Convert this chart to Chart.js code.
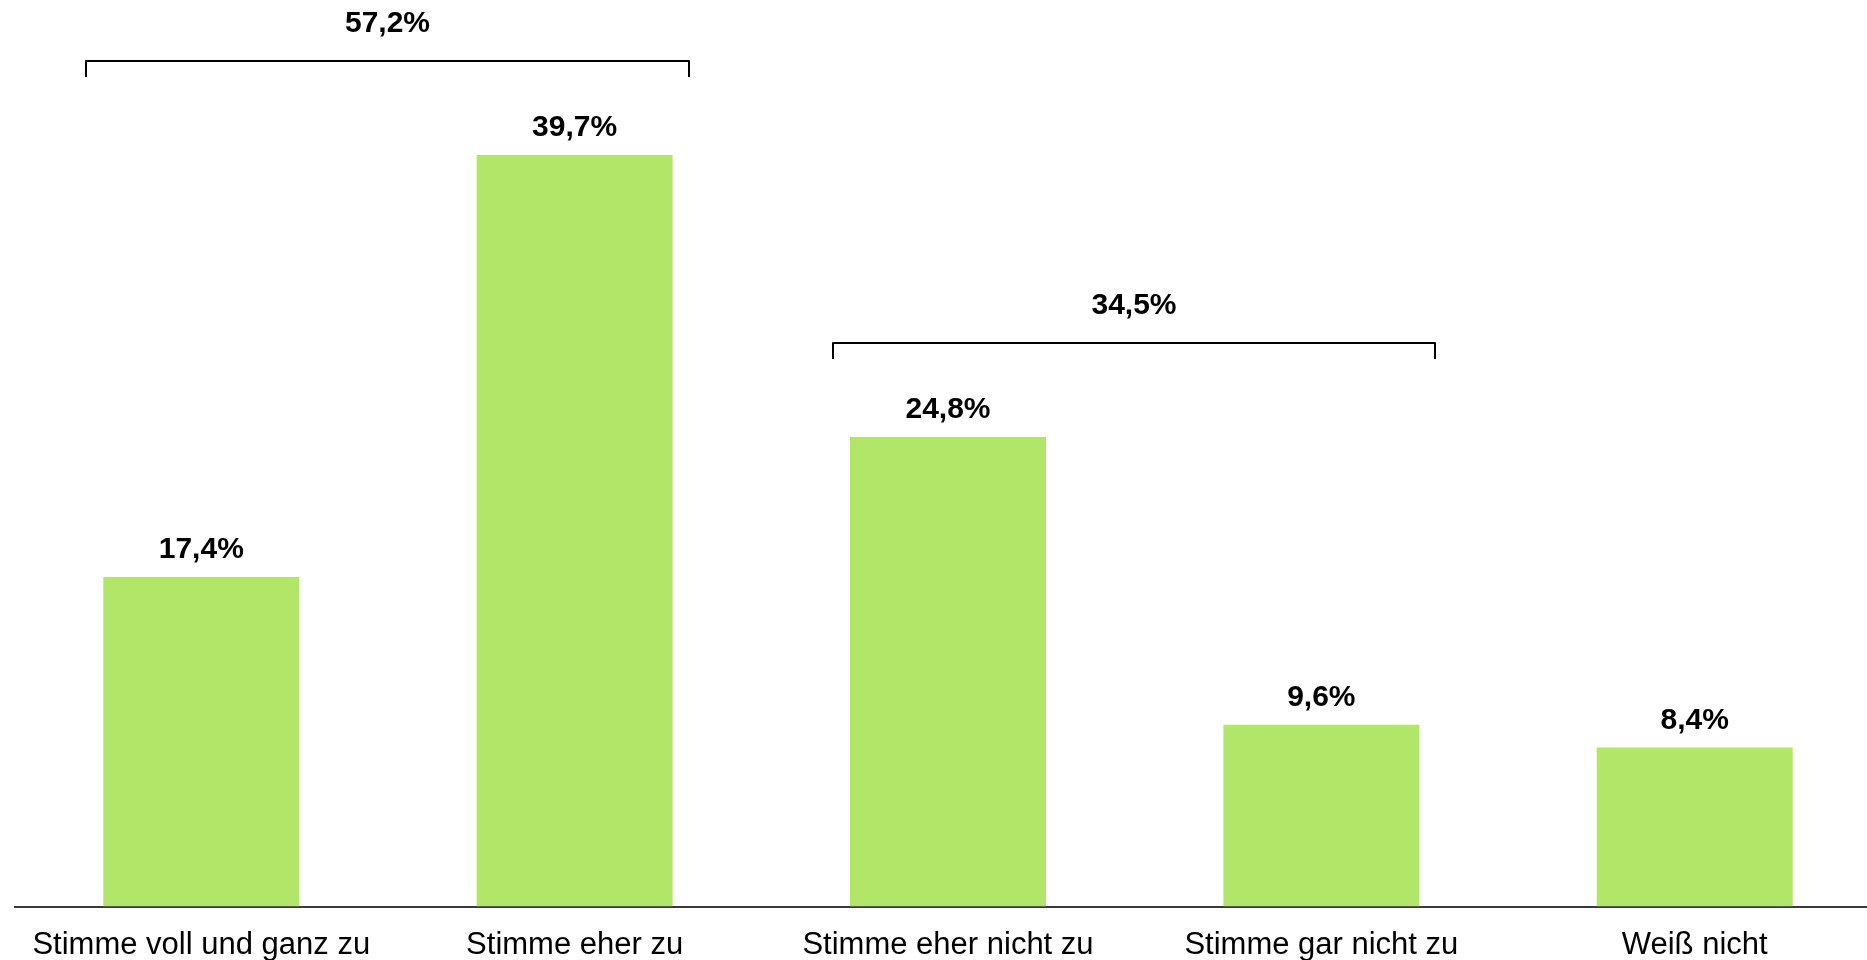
<!DOCTYPE html>
<html>
<head>
<meta charset="utf-8">
<script src="https://cdn.jsdelivr.net/npm/chart.js@4.4.1/dist/chart.umd.min.js"></script>
<style>
  html, body { margin: 0; padding: 0; background: #ffffff; overflow: hidden; }
  #wrap { position: relative; width: 1882px; height: 960px; }
</style>
</head>
<body>
<div id="wrap"><canvas id="chart"></canvas></div>
<script>
// Categories and values (percent)
const categories = ['Stimme voll und ganz zu', 'Stimme eher zu', 'Stimme eher nicht zu', 'Stimme gar nicht zu', 'Weiß nicht'];
const values = [17.4, 39.7, 24.8, 9.6, 8.4];

// Summary brackets: first/last bar index and label
const groupStart = [0, 2];
const groupEnd = [1, 3];
const groupLabels = ['57,2%', '34,5%'];

const barColor = '#b2e669';
const fontFamily = '"Liberation Sans", Arial, sans-serif';

const fmt = v => v.toFixed(1).replace('.', ',') + '%';

// Value labels above bars + group brackets
const labelsPlugin = {
  id: 'labels',
  afterDatasetsDraw(chart) {
    const ctx = chart.ctx;
    const bars = chart.getDatasetMeta(0).data;
    ctx.save();
    ctx.fillStyle = '#000000';
    ctx.font = 'bold 30px ' + fontFamily;
    ctx.textAlign = 'center';
    ctx.textBaseline = 'middle';
    bars.forEach((bar, i) => {
      ctx.fillText(fmt(values[i]), bar.x, bar.y - 27);
    });

    groupStart.forEach((s, g) => {
      const e = groupEnd[g];
      let top = Infinity;
      for (let i = s; i <= e; i++) top = Math.min(top, bars[i].y);
      const x1 = Math.round(bars[s].x - bars[s].width / 2 - 17);
      const x2 = Math.round(bars[e].x + bars[e].width / 2 + 16);
      const y = Math.round(top - 94);
      ctx.strokeStyle = '#000000';
      ctx.lineWidth = 2;
      ctx.lineJoin = 'round';
      ctx.beginPath();
      ctx.moveTo(x1, y + 16);
      ctx.lineTo(x1, y);
      ctx.lineTo(x2, y);
      ctx.lineTo(x2, y + 16);
      ctx.stroke();
      ctx.fillText(groupLabels[g], (x1 + x2) / 2, y - 37);
    });
    ctx.restore();
  }
};

new Chart(document.getElementById('chart'), {
  type: 'bar',
  data: {
    labels: categories,
    datasets: [{
      data: values,
      backgroundColor: barColor,
      borderWidth: 0,
      categoryPercentage: 1,
      barPercentage: 0.525
    }]
  },
  options: {
    responsive: true,
    maintainAspectRatio: false,
    animation: false,
    layout: {
      padding: { left: 14.6, right: 0.6, top: 54.6, bottom: 0 }
    },
    plugins: {
      legend: { display: false },
      tooltip: { enabled: false }
    },
    scales: {
      x: {
        grid: { display: false, drawTicks: false },
        border: { display: true, color: '#3a3a3a', width: 2 },
        ticks: {
          color: '#000000',
          padding: 20,
          maxRotation: 0,
          autoSkip: false,
          font: { family: fontFamily, size: 31 }
        },
        afterFit(scale) { scale.height = 53.5; }
      },
      y: {
        display: false,
        min: 0,
        max: 45
      }
    }
  },
  plugins: [labelsPlugin]
});
</script>
</body>
</html>
